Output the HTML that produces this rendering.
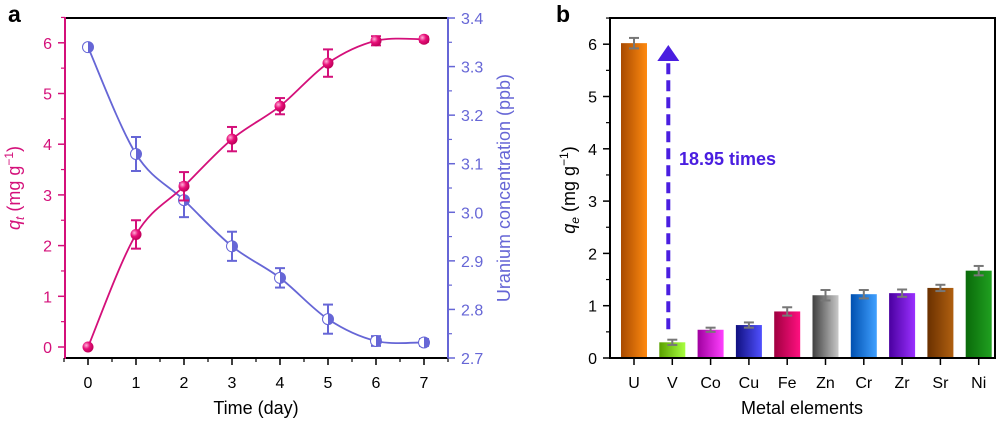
<!DOCTYPE html>
<html><head><meta charset="utf-8"><style>
body{margin:0;background:#fff;width:1000px;height:419px;overflow:hidden}
svg{font-family:"Liberation Sans",Arial,sans-serif}
</style></head><body>
<svg id="s" width="1000" height="419" viewBox="0 0 1000 419" xmlns="http://www.w3.org/2000/svg">
<defs>
<radialGradient id="gq" cx="35%" cy="35%" r="65%"><stop offset="0" stop-color="#ffb0d8"/><stop offset="0.5" stop-color="#e8107a"/><stop offset="1" stop-color="#c0005a"/></radialGradient>
</defs>
<text x="8" y="22" font-size="23" font-weight="bold">a</text>
<text x="556" y="22" font-size="23" font-weight="bold">b</text>
</svg>
<script>
// Panel a data
const days=[0,1,2,3,4,5,6,7];
const qt=[0,2.22,3.17,4.1,4.75,5.6,6.04,6.07];
const qtErr=[0,0.28,0.28,0.24,0.16,0.27,0.09,0.05];
const uConc=[3.34,3.12,3.025,2.93,2.865,2.78,2.735,2.732];
const uErr=[0,0.035,0.035,0.03,0.02,0.03,0.01,0.007];
const aXTicks=[0,1,2,3,4,5,6,7];
const aLTicks=[0,1,2,3,4,5,6];
const aRTicks=[2.7,2.8,2.9,3.0,3.1,3.2,3.3,3.4];
// Panel b data
const metals=["U","V","Co","Cu","Fe","Zn","Cr","Zr","Sr","Ni"];
const qe=[6.02,0.3,0.54,0.63,0.89,1.2,1.22,1.24,1.34,1.67];
const qeErr=[0.1,0.05,0.04,0.05,0.08,0.1,0.08,0.07,0.06,0.09];
const bTicks=[0,1,2,3,4,5,6];

const NS="http://www.w3.org/2000/svg";
const svg=document.getElementById('s');
function mk(tag,attrs,parent){const e=document.createElementNS(NS,tag);for(const k in attrs)e.setAttribute(k,attrs[k]);(parent||svg).appendChild(e);return e;}
const TF=16, AF=18;

// ---------- Panel a ----------
const PINK="#d4107a", BLUE="#6666d6";
const ax=d=>88+d*48;
const ayL=v=>347-v*50.7;
const ayR=v=>358-(v-2.7)*485.7;
const ga=mk('g',{});


let l=mk('line',{x1:65,y1:18,x2:448,y2:18,stroke:'#000','stroke-width':2},ga);

l=mk('line',{x1:64,y1:358,x2:449,y2:358,stroke:'#000','stroke-width':2},ga);

l=mk('line',{x1:65,y1:17,x2:65,y2:359,stroke:PINK,'stroke-width':2},ga);

l=mk('line',{x1:448,y1:17,x2:448,y2:359,stroke:BLUE,'stroke-width':2},ga);

for(let i=0;i<aXTicks.length;i++){
  const x=ax(aXTicks[i]);
  mk('line',{x1:x,y1:358,x2:x,y2:365,stroke:'#000','stroke-width':1.5},ga);
  mk('line',{x1:x+24,y1:358,x2:x+24,y2:362,stroke:'#000','stroke-width':1.2},ga);
  if(i==0) mk('line',{x1:x-24,y1:358,x2:x-24,y2:362,stroke:'#000','stroke-width':1.2},ga);
  const t=mk('text',{x:x,y:388,'font-size':TF,'text-anchor':'middle'},ga);t.textContent=aXTicks[i];
  
}
let t=mk('text',{x:256,y:414,'font-size':AF,'text-anchor':'middle'},ga);t.textContent='Time (day)';

for(const v of aLTicks){
  const y=ayL(v);
  mk('line',{x1:58,y1:y,x2:65,y2:y,stroke:PINK,'stroke-width':1.5},ga);
  if(v<6) mk('line',{x1:61,y1:ayL(v+0.5),x2:65,y2:ayL(v+0.5),stroke:PINK,'stroke-width':1.2},ga);
  t=mk('text',{x:52,y:y+6,'font-size':TF,'text-anchor':'end',fill:PINK},ga);t.textContent=v;
  
}
mk('line',{x1:61,y1:ayL(6.5),x2:65,y2:ayL(6.5),stroke:PINK,'stroke-width':1.2},ga);
t=mk('text',{transform:'translate(20,188) rotate(-90)','font-size':AF,'text-anchor':'middle',fill:PINK},ga);
t.innerHTML='<tspan font-style="italic">q</tspan><tspan font-style="italic" font-size="12" dy="4">t</tspan><tspan dy="-4"> (mg g</tspan><tspan font-size="12" dy="-7">−1</tspan><tspan dy="7">)</tspan>';

for(let i=0;i<aRTicks.length;i++){
  const v=aRTicks[i],y=ayR(v);
  mk('line',{x1:448,y1:y,x2:455,y2:y,stroke:BLUE,'stroke-width':1.5},ga);
  if(i<aRTicks.length-1) mk('line',{x1:448,y1:ayR(v+0.05),x2:452,y2:ayR(v+0.05),stroke:BLUE,'stroke-width':1.2},ga);
  t=mk('text',{x:461,y:y+6,'font-size':TF,fill:BLUE},ga);t.textContent=v.toFixed(1);
  
}
t=mk('text',{transform:'translate(510,188) rotate(-90)','font-size':AF,'text-anchor':'middle',fill:BLUE},ga);t.textContent='Uranium concentration (ppb)';

function smooth(pts){
  let d=`M${pts[0][0]},${pts[0][1]}`;
  for(let i=0;i<pts.length-1;i++){
    const p0=pts[Math.max(0,i-1)],p1=pts[i],p2=pts[i+1],p3=pts[Math.min(pts.length-1,i+2)];
    const c1=[p1[0]+(p2[0]-p0[0])/6,p1[1]+(p2[1]-p0[1])/6];
    const c2=[p2[0]-(p3[0]-p1[0])/6,p2[1]-(p3[1]-p1[1])/6];
    d+=` C${c1[0]},${c1[1]} ${c2[0]},${c2[1]} ${p2[0]},${p2[1]}`;
  }
  return d;
}
let p=mk('path',{d:smooth(days.map((d,i)=>[ax(d),ayR(uConc[i])])),fill:'none',stroke:BLUE,'stroke-width':1.8},ga);

p=mk('path',{d:smooth(days.map((d,i)=>[ax(d),ayL(qt[i])])),fill:'none',stroke:PINK,'stroke-width':1.8},ga);

function errbar(x,y1,y2,col,w,g){
  if(Math.abs(y1-y2)<1)return;
  mk('line',{x1:x,y1:y1,x2:x,y2:y2,stroke:col,'stroke-width':2},g);
  mk('line',{x1:x-w,y1:y1,x2:x+w,y2:y1,stroke:col,'stroke-width':2},g);
  mk('line',{x1:x-w,y1:y2,x2:x+w,y2:y2,stroke:col,'stroke-width':2},g);
}
for(let i=0;i<days.length;i++){
  const x=ax(days[i]),y=ayR(uConc[i]);
  errbar(x,ayR(uConc[i]-uErr[i]),ayR(uConc[i]+uErr[i]),BLUE,5,ga);
  const c=mk('circle',{cx:x,cy:y,r:5.5,fill:'#fff',stroke:BLUE,'stroke-width':1},ga);
  
  mk('path',{d:`M${x},${y-5.5} A5.5,5.5 0 0 1 ${x},${y+5.5} Z`,fill:BLUE},ga);
}
for(let i=0;i<days.length;i++){
  const x=ax(days[i]),y=ayL(qt[i]);
  errbar(x,ayL(qt[i]-qtErr[i]),ayL(qt[i]+qtErr[i]),PINK,5,ga);
  const c=mk('circle',{cx:x,cy:y,r:5.5,fill:'url(#gq)'},ga);
  
}

// ---------- Panel b ----------
const gb=mk('g',{});


const bx=i=>634+i*38.3;
const by=v=>358-v*52.3;
const cols=[["#a84a00","#ff8a10"],["#5aa000","#a8ff40"],["#a000a0","#ff40ff"],["#101080","#5050ff"],["#a00040","#ff1080"],["#404040","#c8c8c8"],["#0050b0","#40a0ff"],["#4a00a0","#9a30ff"],["#6a3000","#b06010"],["#0a6a0a","#20a020"]];
const defs=svg.querySelector('defs');
cols.forEach((c,i)=>{const g=mk('linearGradient',{id:'bg'+i,x1:0,y1:0,x2:1,y2:0},defs);mk('stop',{offset:0,'stop-color':c[0]},g);mk('stop',{offset:1,'stop-color':c[1]},g);});
for(let i=0;i<metals.length;i++){
  const x=bx(i);
  const r=mk('rect',{x:x-13,y:by(qe[i]),width:26,height:by(0)-by(qe[i]),fill:`url(#bg${i})`},gb);
  
  errbar(x,by(qe[i]-qeErr[i]),by(qe[i]+qeErr[i]),'#777',5,gb);
  mk('line',{x1:x,y1:358,x2:x,y2:365,stroke:'#000','stroke-width':1.5},gb);
  t=mk('text',{x:x,y:388,'font-size':TF,'text-anchor':'middle'},gb);t.textContent=metals[i];
  
}
mk('rect',{x:610,y:18,width:385,height:340,fill:'none',stroke:'#000','stroke-width':2},gb);
for(const v of bTicks){
  const y=by(v);
  mk('line',{x1:603,y1:y,x2:610,y2:y,stroke:'#000','stroke-width':1.5},gb);
  mk('line',{x1:606,y1:by(v+0.5),x2:610,y2:by(v+0.5),stroke:'#000','stroke-width':1.2},gb);
  t=mk('text',{x:597,y:y+6,'font-size':TF,'text-anchor':'end'},gb);t.textContent=v;
  
}
t=mk('text',{transform:'translate(575,190) rotate(-90)','font-size':AF,'text-anchor':'middle'},gb);
t.innerHTML='<tspan font-style="italic">q</tspan><tspan font-style="italic" font-size="12" dy="4">e</tspan><tspan dy="-4"> (mg g</tspan><tspan font-size="12" dy="-7">−1</tspan><tspan dy="7">)</tspan>';

t=mk('text',{x:802,y:414,'font-size':AF,'text-anchor':'middle'},gb);t.textContent='Metal elements';

const ARC="#4a1ee0";
l=mk('line',{x1:bx(1)-4,y1:by(qe[1]+0.25),x2:bx(1)-4,y2:60,stroke:ARC,'stroke-width':4,'stroke-dasharray':'11,6'},gb);

mk('polygon',{points:`${bx(1)-15},61 ${bx(1)+7},61 ${bx(1)-4},45`,fill:ARC},gb);
t=mk('text',{x:679,y:165,'font-size':18,'font-weight':'bold',fill:ARC},gb);t.textContent='18.95 times';

</script>
</body></html>
